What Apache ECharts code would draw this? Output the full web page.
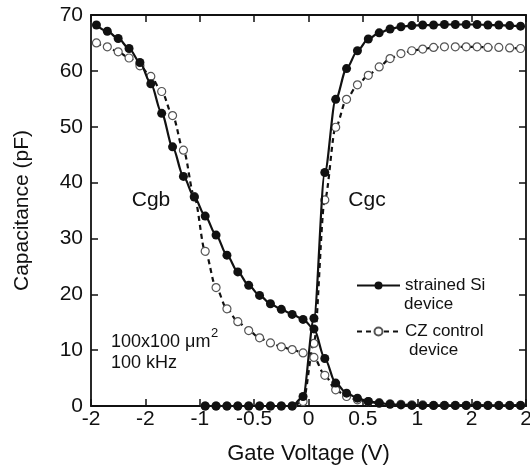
<!DOCTYPE html>
<html>
<head>
<meta charset="utf-8">
<script src="https://cdn.jsdelivr.net/npm/echarts@6/dist/echarts.min.js"></script>
<style>
html,body{margin:0;padding:0;background:#fff;}
#c{width:530px;height:465px;}
</style>
</head>
<body>
<div id="c"></div>
<script>
// Gate voltage sample points (V)
var vAll = [-1.95,-1.85,-1.75,-1.65,-1.55,-1.45,-1.35,-1.25,-1.15,-1.05,
            -0.95,-0.85,-0.75,-0.65,-0.55,-0.45,-0.35,-0.25,-0.15,-0.05,
             0.05, 0.15, 0.25, 0.35, 0.45, 0.55, 0.65, 0.75, 0.85, 0.95,
             1.05, 1.15, 1.25, 1.35, 1.45, 1.55, 1.65, 1.75, 1.85, 1.95];
var vCgc = [-0.95,-0.85,-0.75,-0.65,-0.55,-0.45,-0.35,-0.25,-0.15,-0.05,
             0.05, 0.15, 0.25, 0.35, 0.45, 0.55, 0.65, 0.75, 0.85, 0.95,
             1.05, 1.15, 1.25, 1.35, 1.45, 1.55, 1.65, 1.75, 1.85, 1.95];

// strained Si device (pF)
var strainedCgb = [68.2,67.1,65.8,64.0,61.5,57.7,52.4,46.4,41.1,37.4,
                   34.0,30.6,27.0,24.0,21.6,19.8,18.3,17.3,16.4,15.5,
                   13.8,8.5,4.1,2.3,1.4,0.8,0.5,0.3,0.2,0.1,
                   0.1,0.1,0.1,0.1,0.1,0.1,0.1,0.1,0.1,0.1];
var strainedCgc = [0,0,0,0,0,0,0,0,0,1.7,
                   15.7,41.8,54.9,60.4,63.6,65.7,66.8,67.5,67.9,68.1,
                   68.2,68.2,68.3,68.3,68.3,68.3,68.2,68.2,68.1,68.0];
// CZ control device (pF)
var czCgb = [65.0,64.3,63.4,62.3,60.9,59.0,56.3,52.0,45.8,37.5,
             27.7,21.2,17.4,15.1,13.5,12.2,11.3,10.6,10.1,9.5,
             8.7,5.5,2.9,1.7,1.1,0.8,0.6,0.4,0.3,0.2,
             0.2,0.1,0.1,0.1,0.1,0.1,0.1,0.1,0.1,0.1];
var czCgc = [0,0,0,0,0,0,0,0,0,0.8,
             11.2,36.9,49.9,54.9,57.5,59.2,60.7,62.2,63.1,63.6,
             63.9,64.2,64.3,64.3,64.3,64.3,64.2,64.2,64.1,64.0];

// tick labels as printed
var xTickLabels = ['-2','-2','-1','-0.5','0','0.5','1','2','2'];
var yTickLabels = ['0','10','20','30','40','50','60','70'];

function zip(xs, ys){ return xs.map(function(x,i){ return [x, ys[i]]; }); }

var FONT = "'Liberation Sans', Arial, Helvetica, sans-serif";
var chart = echarts.init(document.getElementById('c'), null, {renderer:'canvas'});

var tickStyle = {show:true, inside:true, length:7, lineStyle:{color:'#111', width:1.5}};
var lineAx = {show:true, onZero:false, lineStyle:{color:'#111', width:1.8}};

function czSeries(name, data){
  return {
    name: name, type:'line', data: data, z: 2,
    smooth: 0.3, smoothMonotone: 'x',
    symbol:'circle', symbolSize: 8,
    itemStyle:{color:'#fff', borderColor:'#555', borderWidth:1.2},
    lineStyle:{color:'#111', width:2.2, type:[5,4]},
    emphasis:{disabled:true}, animation:false
  };
}
function stSeries(name, data){
  return {
    name: name, type:'line', data: data, z: 3,
    smooth: 0.3, smoothMonotone: 'x',
    symbol:'circle', symbolSize: 9,
    itemStyle:{color:'#111', borderColor:'#111', borderWidth:0},
    lineStyle:{color:'#111', width:2.2, type:'solid'},
    emphasis:{disabled:true}, animation:false
  };
}

var option = {
  animation:false,
  backgroundColor:'#fff',
  textStyle:{fontFamily:FONT, color:'#111'},
  grid:{left:91, right:4, top:15, bottom:59, containLabel:false, outerBoundsMode:'none'},
  xAxis:[{
    type:'value', position:'bottom', min:-2, max:2, interval:0.5,
    name:'Gate Voltage (V)', nameLocation:'middle', nameGap:37,
    nameTextStyle:{fontSize:22, color:'#111', fontFamily:FONT},
    axisLine:lineAx, axisTick:tickStyle, splitLine:{show:false},
    axisLabel:{show:true, margin:3, fontSize:21, color:'#111', fontFamily:FONT,
      showMinLabel:true, showMaxLabel:true, hideOverlap:false,
      formatter:function(v){ return xTickLabels[Math.round((v+2)/0.5)]; }}
  },{
    type:'value', position:'top', min:-2, max:2, interval:0.5,
    axisLine:lineAx, axisTick:tickStyle, splitLine:{show:false}, axisLabel:{show:false}
  }],
  yAxis:[{
    type:'value', position:'left', min:0, max:70, interval:10,
    name:'Capacitance (pF)', nameLocation:'middle', nameGap:58, nameRotate:90,
    nameTextStyle:{fontSize:21, color:'#111', fontFamily:FONT},
    axisLine:lineAx, axisTick:tickStyle, splitLine:{show:false},
    axisLabel:{show:true, margin:8, fontSize:21, color:'#111', fontFamily:FONT,
      formatter:function(v){ return yTickLabels[Math.round(v/10)]; }}
  },{
    type:'value', position:'right', min:0, max:70, interval:10,
    axisLine:lineAx, axisTick:tickStyle, splitLine:{show:false}, axisLabel:{show:false}
  }],
  legend:{
    show:true, orient:'vertical', left:351, top:272,
    itemWidth:43, itemHeight:10, itemGap:29,
    data:['strained Si','CZ control'],
    textStyle:{fontSize:17, color:'#111', fontFamily:FONT},
    selectedMode:false
  },
  graphic:[
    {type:'text', x:151, y:200, style:{text:'Cgb', font:'21px '+FONT, fill:'#111', textAlign:'center', textVerticalAlign:'middle'}},
    {type:'text', x:367, y:200, style:{text:'Cgc', font:'21px '+FONT, fill:'#111', textAlign:'center', textVerticalAlign:'middle'}},
    {type:'text', x:111, y:342, style:{text:'100x100 μm', font:'18px '+FONT, fill:'#111', textAlign:'left', textVerticalAlign:'middle'}},
    {type:'text', x:211, y:333, style:{text:'2', font:'13px '+FONT, fill:'#111', textAlign:'left', textVerticalAlign:'middle'}},
    {type:'text', x:111, y:363, style:{text:'100 kHz', font:'18px '+FONT, fill:'#111', textAlign:'left', textVerticalAlign:'middle'}},
    {type:'text', x:404, y:304, style:{text:'device', font:'17px '+FONT, fill:'#111', textAlign:'left', textVerticalAlign:'middle'}},
    {type:'text', x:409, y:350, style:{text:'device', font:'17px '+FONT, fill:'#111', textAlign:'left', textVerticalAlign:'middle'}}
  ],
  series:[
    czSeries('CZ control', zip(vAll, czCgb)),
    czSeries('CZ control', zip(vCgc, czCgc)),
    stSeries('strained Si', zip(vAll, strainedCgb)),
    stSeries('strained Si', zip(vCgc, strainedCgc))
  ]
};
chart.setOption(option);
</script>
</body>
</html>
